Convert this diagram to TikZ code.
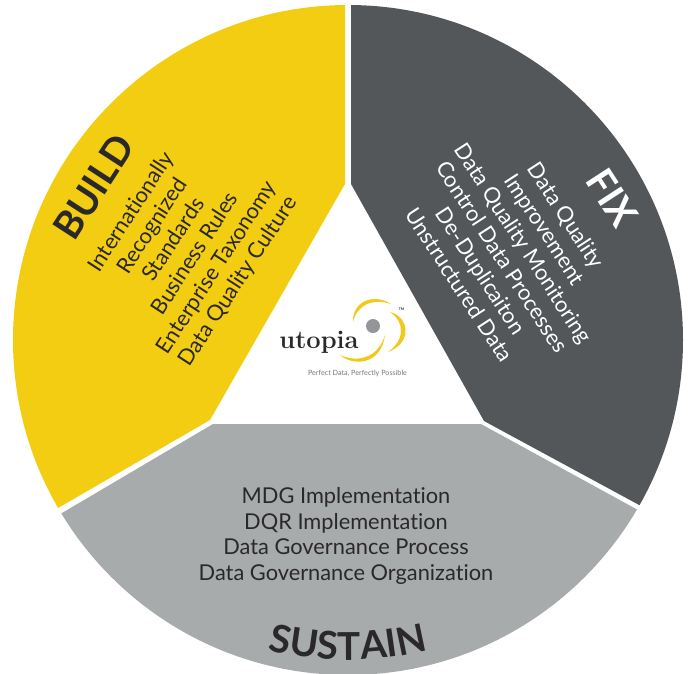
\documentclass[tikz,border=0pt]{standalone}
\usepackage{fontspec}
\usetikzlibrary{decorations.text}
\newfontfamily\lato[Ligatures=NoCommon]{Lato}
\definecolor{yel}{HTML}{F3CD12}
\definecolor{darkg}{HTML}{54575A}
\definecolor{lightg}{HTML}{A7ABAC}
\definecolor{ink}{HTML}{2B2829}
\definecolor{logoyel}{HTML}{F2C81A}
\definecolor{logog}{HTML}{939598}
\tikzset{
  x=1pt,y=-1pt,
  bodytext/.style={font=\lato\fontsize{21.8}{25.5}\selectfont,align=center,text=ink,inner sep=0pt},
  headtext/.style={font=\lato\bfseries\fontsize{38.5}{44}\selectfont,text=ink,inner sep=0pt},
  crescent/.style={fill=logoyel,draw=none}
}
\begin{document}
\begin{tikzpicture}
\useasboundingbox (0,0) rectangle (694,673);
\begin{scope}
\clip (348,340) circle[radius=335pt];
\fill[yel] (345,-10) -- (345,184) -- (210,420) -- (58,508) -- (-20,553) -- (-20,-10) -- cycle;
\fill[darkg] (351,-10) -- (351,184) -- (484,421) -- (641,506) -- (720,549) -- (720,-10) -- cycle;
\fill[lightg] (62,513) -- (213,424) -- (481,424) -- (638,510) -- (720,555) -- (720,690) -- (-20,690) -- (-20,560) -- cycle;
\end{scope}
% texts
\node[headtext,rotate=57] (build) at (94,187) {BUILD};
\node[bodytext,rotate=57] (buildlist) at (185,247) {Internationally\\Recognized\\Standards\\Business Rules\\Enterprise Taxonomy\\Data Quality Culture};
\node[headtext,rotate=-57,text=white] (fix) at (612,198) {FIX};
\node[bodytext,rotate=-57,text=white] (fixlist) at (513,250) {Data Quality\\Improvement\\Data Quality Monitoring\\Control Data Processes\\De-Duplicaiton\\Unstructured Data};
\node[bodytext] (sustainlist) at (346,536) {MDG Implementation\\DQR Implementation\\Data Governance Process\\Data Governance Organization};
\path[postaction={decorate},decoration={text along path,text align=center,
   text={|\lato\bfseries\fontsize{38.5}{44}\selectfont\color{ink}|SUSTAIN}}]
  (212.3,629.9) .. controls (298.3,670) and (397.7,670) .. (483.7,629.9);
% logo
\fill[crescent] (353,322) .. controls (352,303) and (372,292) .. (391,304) .. controls (372,298) and (357,305) .. (353,322) -- cycle;
\fill[crescent] (390,312) .. controls (408,316) and (414,342) .. (388,352) .. controls (405,340) and (405,322) .. (390,312) -- cycle;
\fill[crescent] (340,355) .. controls (352,366) and (381,366) .. (385,335) .. controls (378,358) and (358,363) .. (340,355) -- cycle;
\fill[logog] (373,326) circle[radius=7pt];
\node[font=\bfseries\fontsize{25.5}{26}\selectfont,text=ink,inner sep=0pt,anchor=base] (utopia) at (319,348) {utopia};
\node[font=\lato\fontsize{7.2}{8}\selectfont,text=logog!80!black,inner sep=0pt] (tagline) at (357.5,373) {Perfect Data, Perfectly Possible};
\node[font=\lato\bfseries\fontsize{3.5}{4}\selectfont,text=ink,inner sep=0pt] (tm) at (401.5,309) {TM};
\end{tikzpicture}
\end{document}
